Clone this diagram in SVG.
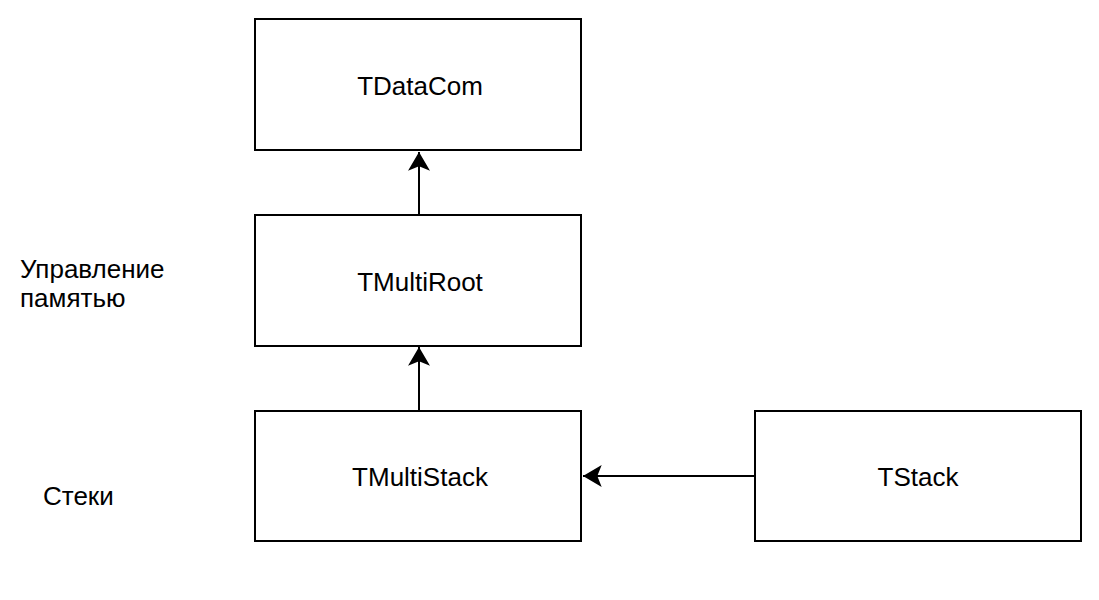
<svg xmlns="http://www.w3.org/2000/svg" width="1099" height="600" viewBox="0 0 1099 600">
<style>
.box{fill:#fff;stroke:#000;stroke-width:2}
.t{font-family:"Liberation Sans",Arial,sans-serif;font-size:26px;fill:#000}
.c{text-anchor:middle;dominant-baseline:central}
.e{fill:none;stroke:#000;stroke-width:2}
</style>
<defs>
<marker id="ar" markerUnits="userSpaceOnUse" markerWidth="22" markerHeight="22" viewBox="0 0 18 20" refX="17" refY="10" orient="auto">
<path d="M17,10 L0,0 L4,10 L0,20 Z" fill="#000"/>
</marker>
</defs>
<rect width="1099" height="600" fill="#fff"/>
<g id="connectors">
<path class="e" d="M419,215 V152" marker-end="url(#ar)"/>
<path class="e" d="M419,411 V347" marker-end="url(#ar)"/>
<path class="e" d="M755,476 H583" marker-end="url(#ar)"/>
</g>
<g id="TDataCom"><rect class="box" x="255" y="19" width="326" height="131"/><text class="t c" x="420" y="86">TDataCom</text></g>
<g id="TMultiRoot"><rect class="box" x="255" y="215" width="326" height="131"/><text class="t c" x="420" y="282">TMultiRoot</text></g>
<g id="TMultiStack"><rect class="box" x="255" y="411" width="326" height="130"/><text class="t c" x="420" y="477">TMultiStack</text></g>
<g id="TStack"><rect class="box" x="755" y="411" width="326" height="130"/><text class="t c" x="918" y="477">TStack</text></g>
<g id="label-memory"><text class="t" x="20" y="278">Управление</text><text class="t" x="20" y="307">памятью</text></g>
<g id="label-stacks"><text class="t" x="43" y="505">Стеки</text></g>
</svg>
